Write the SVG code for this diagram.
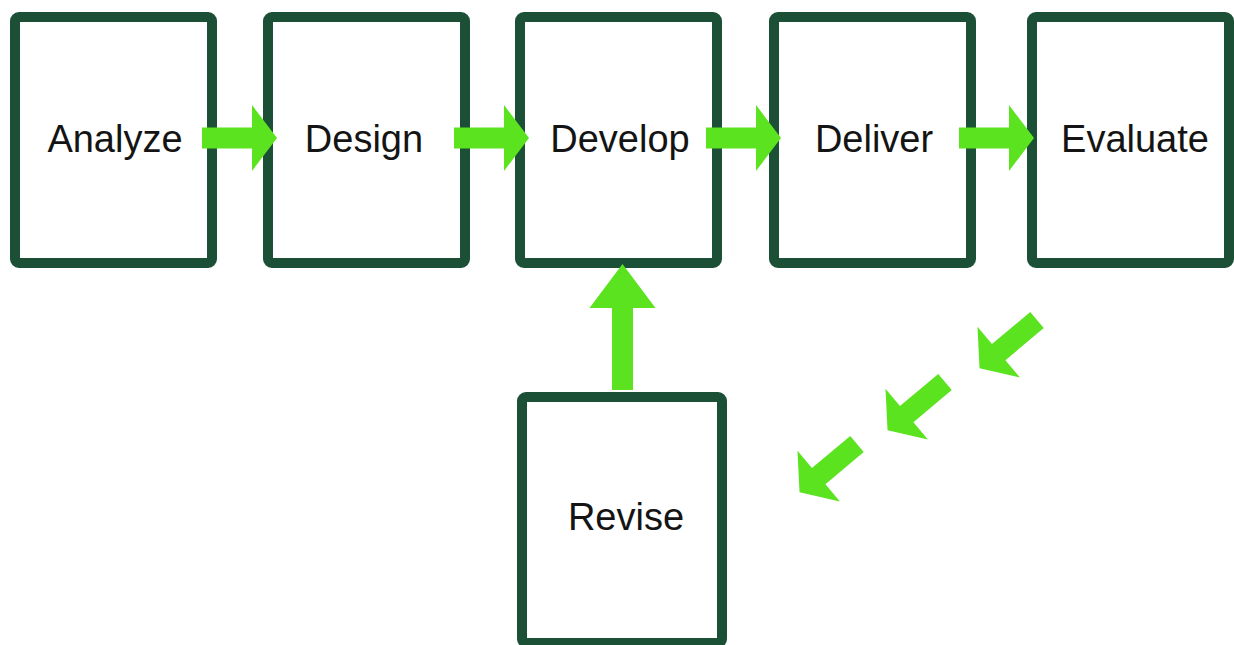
<svg xmlns="http://www.w3.org/2000/svg" xmlns:xlink="http://www.w3.org/1999/xlink" width="1234" height="645" viewBox="0 0 1234 645">
  <style>
    .box { fill: #ffffff; stroke: #1b4f36; stroke-width: 10; }
    .label { font-family: "Liberation Sans", Arial, sans-serif; font-size: 38px; fill: #141414; text-anchor: middle; }
    .arrow { fill: #5ae31e; }
  </style>
  <defs>
    <!-- block arrow pointing right, origin at the tail centre -->
    <path id="blockArrow" d="M0,-10.5 H50 V-33 L75,0 L50,33 V10.5 H0 Z"/>
  </defs>
  <rect width="1234" height="645" fill="#ffffff"/>

  <g id="node-analyze">
    <rect class="box" x="15" y="17" width="197" height="246" rx="4"/>
    <text class="label" x="115" y="152">Analyze</text>
  </g>
  <g id="node-design">
    <rect class="box" x="268" y="17" width="197" height="246" rx="4"/>
    <text class="label" x="364" y="152">Design</text>
  </g>
  <g id="node-develop">
    <rect class="box" x="520" y="17" width="197" height="246" rx="4"/>
    <text class="label" x="620" y="152">Develop</text>
  </g>
  <g id="node-deliver">
    <rect class="box" x="774" y="17" width="197" height="246" rx="4"/>
    <text class="label" x="874" y="152">Deliver</text>
  </g>
  <g id="node-evaluate">
    <rect class="box" x="1032" y="17" width="197" height="246" rx="4"/>
    <text class="label" x="1135" y="152">Evaluate</text>
  </g>
  <g id="node-revise">
    <rect class="box" x="522" y="397" width="200" height="246" rx="4"/>
    <text class="label" x="626" y="530">Revise</text>
  </g>

  <g id="connectors" class="arrow">
    <use xlink:href="#blockArrow" transform="translate(202,138)"/>
    <use xlink:href="#blockArrow" transform="translate(454,138)"/>
    <use xlink:href="#blockArrow" transform="translate(706,138)"/>
    <use xlink:href="#blockArrow" transform="translate(959,138)"/>
    <path d="M612,390 V308 H589.5 L622.5,264 L655.5,308 H633 V390 Z"/>
    <use xlink:href="#blockArrow" transform="translate(1037,320) rotate(140)"/>
    <use xlink:href="#blockArrow" transform="translate(945,382) rotate(140)"/>
    <use xlink:href="#blockArrow" transform="translate(857,444) rotate(140)"/>
  </g>
</svg>
